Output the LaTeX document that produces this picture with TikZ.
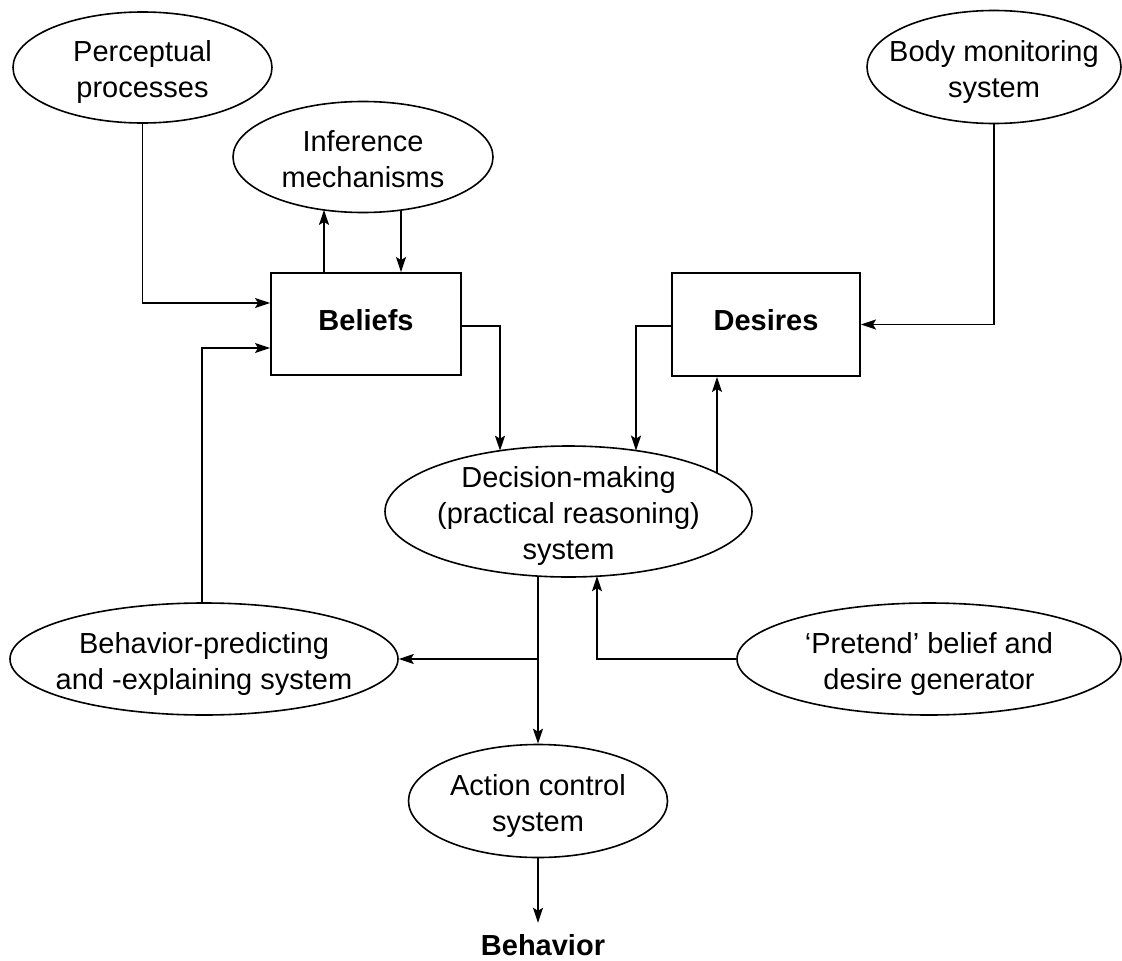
\documentclass[tikz,border=0pt]{standalone}
\usepackage{fontspec}
\setmainfont{Liberation Sans}
\usetikzlibrary{shapes.geometric,arrows.meta,calc}
\newcommand{\lowtext}[1]{\raisebox{-5pt}[\height][\depth]{\begin{tabular}{@{}c@{}}#1\end{tabular}}}
\begin{document}
\begin{tikzpicture}[x=1pt,y=-1pt,
  every node/.style={font=\fontsize{29}{36}\selectfont},
  ell/.style={ellipse,draw,line width=1.6pt,inner sep=-150pt,align=center},
  box/.style={rectangle,draw,line width=1.9pt,inner sep=0pt,font=\fontsize{29}{36}\selectfont\bfseries},
  arr/.style={line width=1.8pt,-{Stealth[length=15pt,width=10pt,inset=3pt]}}]
\useasboundingbox (0,0) rectangle (1122,961);
\node[ell,minimum width=259pt,minimum height=111pt] (perc) at (142.5,67.5) {\lowtext{Perceptual\\processes}};
\node[ell,minimum width=260pt,minimum height=111pt] (infer) at (363,157) {\lowtext{Inference\\mechanisms}};
\node[ell,minimum width=254pt,minimum height=113pt] (body) at (994,67) {\lowtext{Body monitoring\\system}};
\node[box,minimum width=190pt,minimum height=102pt] (beliefs) at (366,324) {\raisebox{4pt}[\height][\depth]{Beliefs}};
\node[box,minimum width=188pt,minimum height=103pt] (desires) at (766,324.5) {\raisebox{4pt}[\height][\depth]{Desires}};
\node[ell,minimum width=367pt,minimum height=131pt] (dec) at (568.5,511.5) {\lowtext{Decision-making\\(practical reasoning)\\system}};
\node[ell,minimum width=388pt,minimum height=112pt] (bp) at (204,659) {\lowtext{Behavior-predicting\\and -explaining system}};
\node[ell,minimum width=384pt,minimum height=112pt] (pret) at (929,659) {\lowtext{`Pretend' belief and\\desire generator}};
\node[ell,minimum width=259pt,minimum height=113pt] (act) at (538,801) {\lowtext{Action control\\system}};
\node[font=\fontsize{29}{36}\selectfont\bfseries,anchor=base,inner xsep=0pt,inner ysep=11pt] (behav) at (543,955) {Behavior};

\coordinate (it1) at ($(infer.center)+(-39,52.9)$);
\coordinate (it2) at ($(infer.center)+(38,53)$);
\coordinate (dt1) at (500,450.7);
\coordinate (dt2) at (636,450.6);
\coordinate (dt3) at (717,473);
\coordinate (db1) at (538,576);
\coordinate (db2) at (597,576.2);
\coordinate (br) at (db1 |- bp.east);

\draw[arr] (perc.south) |- ([yshift=21pt]beliefs.west);
\draw[arr] (it1 |- beliefs.north) -- (it1);
\draw[arr] (it2) -- (it2 |- beliefs.north);
\draw[arr] ([yshift=-2pt]beliefs.east) -| (dt1);
\draw[arr] ([yshift=-1.5pt]desires.west) -| (dt2);
\draw[arr] (dt3) -- (dt3 |- desires.south);
\draw[arr] (body.south) |- (desires.east);
\draw[arr] (db1) -- (act.north);
\draw[arr] (br) -- (bp.east);
\draw[arr] ([xshift=-2pt]bp.north) |- ([yshift=-24pt]beliefs.west);
\draw[arr] (pret.west) -| (db2);
\draw[arr] (act.south) -- (act.south |- behav.north);
\end{tikzpicture}
\end{document}
